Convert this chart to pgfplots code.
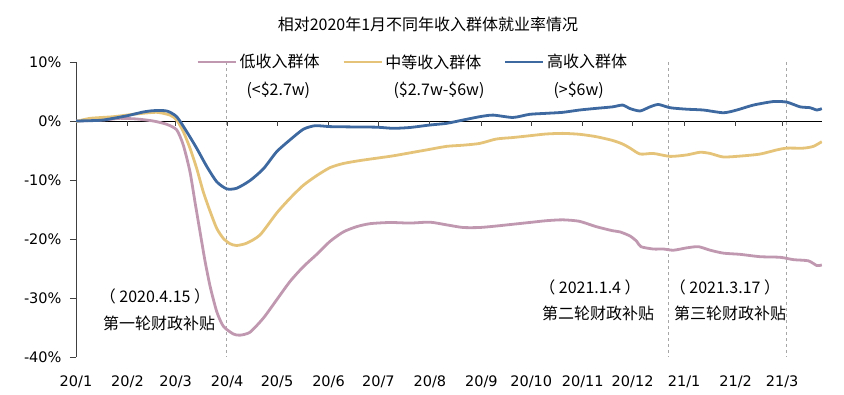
\documentclass[border=0pt]{standalone}
\usepackage{pgfplots}
\pgfplotsset{compat=1.18}
\usepackage{fontspec}
\setmainfont{DejaVu Sans}
\newfontfamily\cjk{Noto Sans CJK SC}
\definecolor{cpink}{RGB}{192,152,176}
\definecolor{cyellow}{RGB}{229,196,121}
\definecolor{cblue}{RGB}{61,105,160}
\definecolor{cdash}{RGB}{166,166,166}

\pgfplotstableread{
d v
0 0
8 0.05
16.5 0.17
31 0.9
40 1.5
46.5 1.75
54.6 1.7
60.6 0.73
66.6 -1.8
72.6 -4.6
78.7 -7.7
84.7 -10.3
90.7 -11.5
96.7 -11.4
104.7 -10.1
112.8 -8.1
120.8 -5.2
128.8 -3.2
136.8 -1.4
143.9 -0.8
152.9 -0.95
165 -1.0
181 -1.05
191 -1.24
201 -1.1
213 -0.68
223 -0.4
233 0.17
243 0.73
251 1.0
263 0.6
273 1.13
283 1.3
293 1.47
303 1.86
313 2.14
323 2.4
329 2.7
333.5 2.1
339.5 1.7
345.5 2.4
350.5 2.8
357.6 2.25
367.6 2.0
377.6 1.86
389.7 1.4
397.7 1.86
407.7 2.7
419.8 3.3
427.8 3.2
435.8 2.4
441.9 2.25
445.9 1.86
448.9 2.1
}\highdata

\pgfplotstableread{
d v
0 -0.1
8.4 0.45
22.5 0.73
36.5 1.2
48.6 1.47
56.6 1.0
60.6 0.17
64.6 -1.8
68.6 -4.6
72.6 -8.0
76.6 -12.0
80.7 -15.3
84.7 -18.2
88.7 -19.9
92.7 -20.8
96.7 -21.1
102.8 -20.7
110.8 -19.3
120.8 -15.6
128.8 -13.1
136.8 -10.9
144.9 -9.25
152.9 -7.9
160.9 -7.2
171 -6.7
181 -6.3
191 -5.9
201 -5.4
211 -4.9
223 -4.3
233 -4.1
243 -3.8
253 -3.05
263 -2.8
273 -2.5
283 -2.2
293 -2.1
303 -2.25
313 -2.65
323 -3.3
329 -3.9
333.5 -4.6
339.5 -5.6
347.5 -5.5
357.6 -6.0
367.6 -5.75
375.6 -5.3
381.7 -5.5
389.7 -6.1
401.7 -5.9
411.8 -5.6
421.8 -4.9
427.8 -4.6
437.8 -4.6
443.8 -4.3
448.9 -3.5
}\middata

\pgfplotstableread{
d v
0 0
16.5 0.17
26.5 0.45
36.5 0.34
46.5 0
54.6 -0.56
60.6 -1.5
64.6 -4.1
68.6 -8.6
71.6 -13.7
74.6 -18.7
77.7 -23.8
80.7 -28.0
84.7 -32.3
88.7 -34.8
94.7 -36.1
98.7 -36.3
104.7 -35.8
112.8 -33.4
120.8 -30.3
128.8 -27.2
136.8 -24.7
144.9 -22.6
152.9 -20.4
160.9 -18.8
169 -17.9
177 -17.4
189 -17.2
201 -17.3
213 -17.15
223 -17.6
233 -18.05
243 -18.05
253 -17.8
263 -17.5
273 -17.2
283 -16.9
293 -16.75
303 -17.0
313 -17.9
323 -18.6
327.5 -18.8
333.5 -19.5
337.5 -20.4
340 -21.3
347.5 -21.7
353.6 -21.7
359.6 -21.9
367.6 -21.5
374.6 -21.3
381.7 -21.9
389.7 -22.4
399.7 -22.6
411.8 -23.0
423.8 -23.1
431.8 -23.5
440.8 -23.7
445.9 -24.5
448.9 -24.4
}\lowdata

\begin{document}
\begin{tikzpicture}[x=1pt,y=1pt]
\useasboundingbox (0,0) rectangle (844,394);
\node[font=\cjk\fontsize{16}{18}\selectfont] at (428,370) {相对2020年1月不同年收入群体就业率情况};
\begin{axis}[
  at={(76pt,37pt)}, anchor=south west,
  scale only axis, width=746pt, height=295pt,
  xmin=0, xmax=449, ymin=-40, ymax=10,
  axis y line*=left, axis x line*=bottom,
  x axis line style={draw=none},
  y axis line style={draw=black!75, line width=0.8pt},
  xtick style={draw=none},
  ytick style={draw=black!75, line width=0.8pt},
  tick align=outside, major tick length=6pt,
  xtick={0,31,60,91,121,152,182,213,244,274,305,335,366,397,425},
  xticklabels={20/1,20/2,20/3,20/4,20/5,20/6,20/7,20/8,20/9,20/10,20/11,20/12,21/1,21/2,21/3},
  ytick={-40,-30,-20,-10,0,10},
  yticklabels={-40\%,-30\%,-20\%,-10\%,0\%,10\%},
  tick label style={font=\fontsize{14.5}{17}\selectfont},
  xticklabel style={yshift=-9pt},
  yticklabel style={xshift=-5pt},
  legend columns=3,
  legend style={draw=none, fill=none, at={(axis description cs:0.161,1)}, anchor=west,
    font=\cjk\fontsize{16}{18}\selectfont, inner sep=0pt,
    nodes={inner sep=2.5pt},
    /tikz/every even column/.append style={column sep=20pt}},
  legend image code/.code={\draw[#1] (0pt,0pt) -- (38pt,0pt);},
]
\draw[black, line width=0.8pt] (axis cs:0,0) -- (axis cs:449,0);
\pgfplotsinvokeforeach{31,60,91,121,152,182,213,244,274,305,335,366,397,425}{
  \draw[black!75, line width=0.8pt] (axis cs:#1,0) -- ([yshift=-5pt]axis cs:#1,0);
}
\draw[cdash, line width=0.9pt, dash pattern=on 3pt off 3pt] (axis cs:90.5,10) -- (axis cs:90.5,-40);
\draw[cdash, line width=0.9pt, dash pattern=on 3pt off 3pt] (axis cs:356.4,10) -- (axis cs:356.4,-40);
\draw[cdash, line width=0.9pt, dash pattern=on 3pt off 3pt] (axis cs:427.4,10) -- (axis cs:427.4,-40);
\addplot[cpink, line width=2.8pt, smooth, tension=0.4] table[x=d,y=v] {\lowdata};
\addlegendentry{低收入群体}
\addplot[cyellow, line width=2.8pt, smooth, tension=0.4] table[x=d,y=v] {\middata};
\addlegendentry{中等收入群体}
\addplot[cblue, line width=2.8pt, smooth, tension=0.4] table[x=d,y=v] {\highdata};
\addlegendentry{高收入群体}
\end{axis}
\begin{scope}[every node/.style={font=\cjk\fontsize{16}{18}\selectfont}]
\node[anchor=west] at (243,304) {(<\$2.7w)};
\node[anchor=west] at (390,304) {(\$2.7w-\$6w)};
\node[anchor=west] at (550,304) {(>\$6w)};
\node at (155,98) {（ 2020.4.15 ）};
\node at (159,71) {第一轮财政补贴};
\node at (590,107) {（ 2021.1.4 ）};
\node at (598,81) {第二轮财政补贴};
\node at (725,107) {（ 2021.3.17 ）};
\node at (730,81) {第三轮财政补贴};
\end{scope}
\end{tikzpicture}
\end{document}
